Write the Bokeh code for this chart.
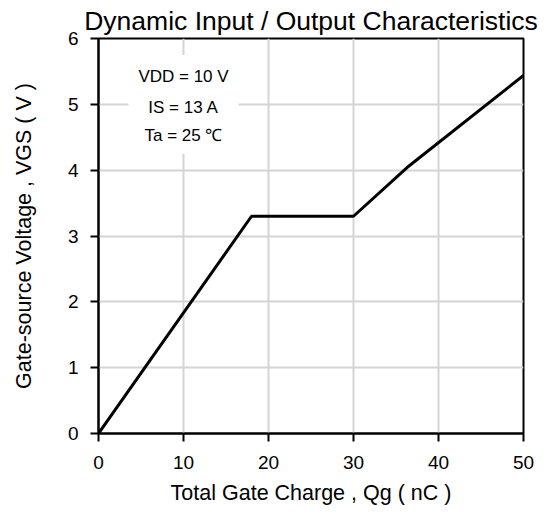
from bokeh.plotting import figure
from bokeh.models import FixedTicker, Range1d, Label
from bokeh.embed import file_html
from bokeh.resources import INLINE

# data
qg = [0, 18, 30, 36.3, 50]
vgs = [0, 3.3, 3.3, 4.04, 5.44]
x_ticks = [0, 10, 20, 30, 40, 50]
y_ticks = [0, 1, 2, 3, 4, 5, 6]
cond_lines = ["VDD = 10 V", "IS = 13 A", "Ta = 25 \u2103"]
cond_x = [10, 10, 10]
cond_y = [5.42, 4.95, 4.52]

FONT = "Liberation Sans"

p = figure(width=545, height=510, output_backend="svg", toolbar_location=None,
           x_range=Range1d(0, 50), y_range=Range1d(0, 6),
           min_border_left=98, min_border_right=22, min_border_top=38, min_border_bottom=77)

p.title.text = "Dynamic Input / Output Characteristics"
p.title.text_font = FONT
p.title.text_font_size = "26.5px"
p.title.text_font_style = "normal"
p.title.text_color = "black"
p.title.align = "center"
p.title.standoff = 5
p.title.offset = 0

for ax in (p.xaxis, p.yaxis):
    ax.axis_line_color = "black"
    ax.axis_line_width = 2
    ax.major_tick_line_color = "black"
    ax.major_tick_line_width = 2
    ax.major_tick_out = 8
    ax.major_tick_in = 0
    ax.minor_tick_line_color = None
    ax.major_label_text_font = FONT
    ax.major_label_text_font_size = "19px"
    ax.major_label_text_color = "black"
    ax.axis_label_text_font = FONT
    ax.axis_label_text_font_size = "21.5px"
    ax.axis_label_text_font_style = "normal"
    ax.axis_label_text_color = "black"

p.xaxis.major_label_standoff = 14
p.yaxis.major_label_standoff = 12
p.xaxis.ticker = FixedTicker(ticks=x_ticks)
p.yaxis.ticker = FixedTicker(ticks=y_ticks)
p.xaxis.axis_label = "Total Gate Charge , Qg ( nC )"
p.yaxis.axis_label = "Gate-source Voltage , VGS ( V )"
p.xaxis.axis_label_standoff = 9
p.yaxis.axis_label_standoff = 29

p.xgrid.ticker = FixedTicker(ticks=x_ticks)
p.ygrid.ticker = FixedTicker(ticks=y_ticks)
p.grid.grid_line_color = "#d4d4d4"
p.grid.grid_line_width = 2

p.outline_line_color = "black"
p.outline_line_width = 2
p.background_fill_color = "white"
p.border_fill_color = "white"

# white box behind the conditions text
p.quad(left=[3.53], right=[16.47], bottom=[4.25], top=[5.75],
       fill_color="white", line_color=None)

p.line(qg, vgs, line_color="black", line_width=3)

for t, x, y in zip(cond_lines, cond_x, cond_y):
    p.add_layout(Label(x=x, y=y, text=t, text_align="center", text_baseline="middle",
                       text_font=FONT, text_font_size="17px", text_color="black"))

open("out.html", "w").write(file_html(p, INLINE))
